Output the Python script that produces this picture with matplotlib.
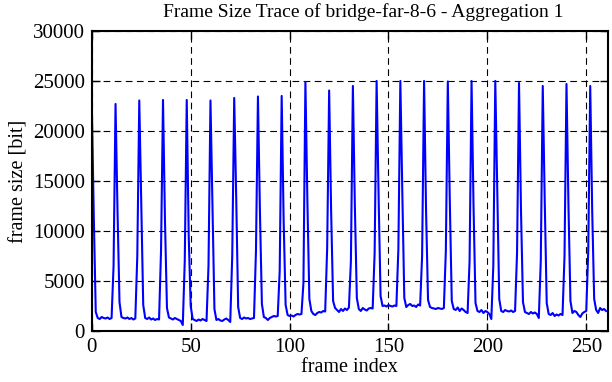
#!/usr/bin/env python3
"""Frame size trace of bridge-far-8-6 (aggregation 1), gnuplot look."""
import numpy as np
import matplotlib.pyplot as plt
import matplotlib as mpl

mpl.rcParams.update({
    "font.family": "serif",
    "font.serif": ["Liberation Serif", "DejaVu Serif"],
    "font.size": 14,
})

# ── Data: frame sizes [bit], one row per 12-frame GOP ──
GOP_00 = [22600, 11500, 1900, 1300, 1200, 1400, 1300, 1250, 1350, 1200, 1300, 6500]
GOP_01 = [22700, 12000, 2900, 1400, 1300, 1250, 1350, 1200, 1300, 1150, 1250, 7500]
GOP_02 = [23050, 13000, 2600, 1300, 1200, 1350, 1150, 1250, 1100, 1200, 1150, 8000]
GOP_03 = [23100, 11000, 2300, 1350, 1250, 1150, 1300, 1200, 1100, 1000, 600, 7000]
GOP_04 = [23100, 9500, 2500, 1200, 1100, 1000, 1150, 1050, 1200, 1100, 1000, 6500]
GOP_05 = [23050, 12500, 2200, 1100, 1200, 1050, 1000, 1150, 1250, 1100, 900, 7500]
GOP_06 = [23300, 13500, 2400, 1300, 1200, 1350, 1250, 1300, 1200, 1250, 1300, 8000]
GOP_07 = [23450, 12000, 2700, 1400, 1300, 1100, 1300, 1400, 1500, 1450, 1500, 6000]
GOP_08 = [23500, 11000, 2600, 1600, 1500, 1550, 1450, 1600, 1700, 1650, 1700, 4800]
GOP_09 = [24900, 13000, 3200, 2000, 1700, 1600, 1800, 1900, 1850, 2000, 1950, 8300]
GOP_10 = [24050, 12000, 3000, 2300, 2100, 1900, 2200, 2000, 2250, 2100, 2350, 7000]
GOP_11 = [24500, 12500, 3300, 2200, 2000, 2300, 2150, 2050, 2250, 2300, 2250, 7800]
GOP_12 = [25000, 13500, 3500, 2500, 2550, 2450, 2600, 2500, 2450, 2550, 2500, 8200]
GOP_13 = [25000, 13800, 3300, 2400, 2600, 2700, 2500, 2550, 2400, 2650, 2550, 7500]
GOP_14 = [25000, 12000, 3100, 2400, 2300, 2250, 2200, 2300, 2250, 2200, 2300, 8000]
GOP_15 = [24950, 13000, 3000, 2200, 2100, 2350, 2000, 2250, 2100, 1900, 1800, 7000]
GOP_16 = [25000, 12500, 2800, 2000, 1900, 2100, 1800, 2000, 1900, 1700, 1200, 6500]
GOP_17 = [25000, 14000, 3200, 2000, 1900, 2100, 2000, 1950, 2050, 1900, 2000, 7800]
GOP_18 = [24800, 12000, 2900, 1900, 1800, 1700, 1900, 1750, 1850, 1700, 1300, 7000]
GOP_19 = [24500, 13000, 2800, 1700, 1600, 1800, 1500, 1650, 1550, 1700, 1600, 7500]
GOP_20 = [24700, 12500, 3000, 1800, 2000, 1900, 1600, 1400, 1750, 1900, 2000, 8000]
GOP_21 = [24500, 12000, 3200, 2100, 1800, 2300, 2100, 2200, 2000]

FRAME_SIZES = np.concatenate([
    GOP_00, GOP_01, GOP_02, GOP_03, GOP_04, GOP_05, GOP_06, GOP_07,
    GOP_08, GOP_09, GOP_10, GOP_11, GOP_12, GOP_13, GOP_14, GOP_15,
    GOP_16, GOP_17, GOP_18, GOP_19, GOP_20, GOP_21,
])
FRAME_INDEX = np.arange(len(FRAME_SIZES))

X_TICKS = [0, 50, 100, 150, 200, 250]
Y_TICKS = [0, 5000, 10000, 15000, 20000, 25000, 30000]

fig = plt.figure(figsize=(6.12, 3.82), dpi=100)
ax = fig.add_axes([0.150, 0.1335, 0.8435, 0.7855])

ax.plot(FRAME_INDEX, FRAME_SIZES, color="#0000FF", linewidth=1.5)

ax.set_xlim(0, 261)
ax.set_ylim(0, 30000)
ax.set_xticks(X_TICKS)
ax.set_yticks(Y_TICKS)

# gnuplot-style dashed grid, inward ticks on all sides
ax.grid(True, color="black", linestyle=(0, (6, 4)), linewidth=0.8)
ax.tick_params(direction="in", length=6, width=1.0, top=True, right=True,
               labelsize=15, pad=5)
for sp in ax.spines.values():
    sp.set_linewidth(1.5)

# gnuplot centres the title on the whole canvas, slightly right of the axes
fig.text(363 / 612, 1 - 12 / 382,
         "Frame Size Trace of bridge-far-8-6 - Aggregation 1",
         fontsize=14, ha="center", va="center")
ax.set_xlabel("frame index", fontsize=14.5, labelpad=1)
ax.set_ylabel("frame size [bit]", fontsize=14.5, labelpad=3)

fig.savefig("out.png", dpi=100)
